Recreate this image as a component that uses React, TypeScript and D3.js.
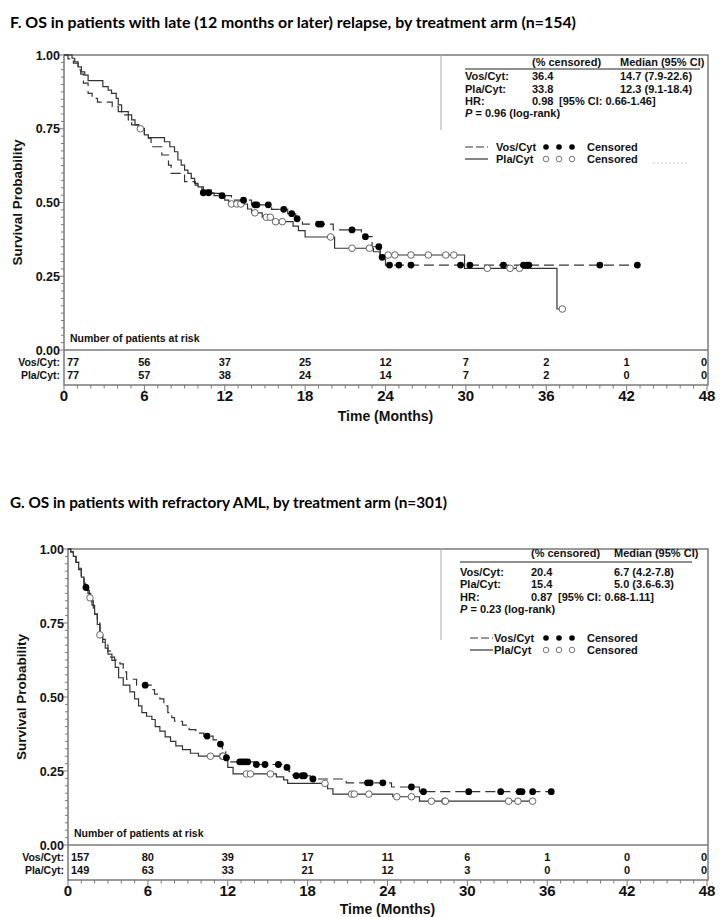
import React from "react";
import * as d3 from "d3";

// ---------- shared ----------
const monthTicks = [0, 6, 12, 18, 24, 30, 36, 42, 48];
const probTicks = [0, 0.25, 0.5, 0.75, 1];
const armLabels = ["Vos/Cyt:", "Pla/Cyt:"];

// ---------- Panel F ----------
const fTitle = "F. OS in patients with late (12 months or later) relapse, by treatment arm (n=154)";
const fVosSteps: [number, number][] = [
  [0.3, 0.987], [0.7, 0.972], [1.05, 0.95], [1.25, 0.935], [1.45, 0.905], [1.8, 0.87], [2.1, 0.853],
  [2.5, 0.84], [3.6, 0.825], [4.05, 0.808], [4.3, 0.797], [4.8, 0.78], [5.05, 0.763], [5.6, 0.751],
  [6.0, 0.729], [6.3, 0.718], [6.5, 0.689], [7.3, 0.661], [7.8, 0.627], [8.0, 0.599], [9.0, 0.571],
  [9.8, 0.559], [10.3, 0.533], [11.2, 0.523], [12.5, 0.508], [14.0, 0.492], [15.5, 0.477],
  [16.7, 0.462], [17.3, 0.445], [17.8, 0.427], [20.1, 0.407], [22.2, 0.384], [23.0, 0.35],
  [23.6, 0.314], [24.0, 0.288],
];
const fVosEnd = 42.8;
const fVosCensored = [10.4, 10.8, 11.8, 13.4, 14.25, 14.4, 15.25, 16.4, 17.0, 17.4, 19.0, 19.2, 21.5, 22.5,
  23.5, 23.75, 24.3, 25.0, 25.9, 29.6, 30.3, 32.8, 34.3, 34.55, 34.7, 40.0, 42.8];
const fPlaSteps: [number, number][] = [
  [0.6, 0.989], [0.8, 0.977], [1.05, 0.96], [1.3, 0.943], [1.55, 0.932], [1.8, 0.913], [2.9, 0.893],
  [3.3, 0.881], [3.55, 0.87], [3.9, 0.853], [4.05, 0.831], [4.3, 0.808], [4.8, 0.797], [5.05, 0.78],
  [5.3, 0.763], [5.55, 0.75], [6.0, 0.729], [6.3, 0.72], [7.5, 0.706], [7.9, 0.689], [8.25, 0.672],
  [8.5, 0.644], [8.75, 0.627], [9.0, 0.61], [9.25, 0.599], [9.5, 0.582], [9.75, 0.565], [10.0, 0.553],
  [10.4, 0.542], [11.0, 0.531], [11.6, 0.52], [12.0, 0.508], [12.3, 0.495], [13.7, 0.478], [14.0, 0.465],
  [14.8, 0.45], [15.6, 0.435], [17.1, 0.42], [17.5, 0.405], [18.0, 0.383], [20.2, 0.345], [23.1, 0.333],
  [23.6, 0.322], [29.9, 0.277], [36.8, 0.139],
];
const fPlaEnd = 37.2;
const fPlaCensored = [5.7, 12.5, 12.9, 13.2, 14.25, 15.1, 15.4, 15.8, 16.3, 19.9, 21.5, 22.8, 24.2, 24.7,
  25.9, 27.2, 28.5, 29.1, 31.6, 33.3, 34.0, 37.2];
const fRiskVos = [77, 56, 37, 25, 12, 7, 2, 1, 0];
const fRiskPla = [77, 57, 38, 24, 14, 7, 2, 0, 0];
const fCensPct = ["36.4", "33.8"];
const fMedians = ["14.7 (7.9-22.6)", "12.3 (9.1-18.4)"];
const fHR = ["0.98", "[95% CI: 0.66-1.46]"];
const fP = "= 0.96 (log-rank)";

// ---------- Panel G ----------
const gTitle = "G. OS in patients with refractory AML, by treatment arm (n=301)";
const gVosSteps: [number, number][] = [
  [0.2, 0.99], [0.4, 0.975], [0.6, 0.955], [0.8, 0.935], [1.0, 0.91], [1.2, 0.885], [1.3, 0.87],
  [1.5, 0.85], [1.7, 0.825], [1.9, 0.8], [2.0, 0.78], [2.2, 0.75], [2.4, 0.72], [2.6, 0.695],
  [2.8, 0.675], [3.0, 0.655], [3.2, 0.635], [3.5, 0.625], [3.9, 0.612], [4.15, 0.585], [4.4, 0.56],
  [5.15, 0.54], [6.3, 0.525], [6.5, 0.51], [6.9, 0.494], [7.2, 0.47], [7.5, 0.447], [7.8, 0.43],
  [8.0, 0.418], [8.6, 0.405], [9.1, 0.39], [9.6, 0.378], [10.2, 0.368], [10.9, 0.355], [11.2, 0.341],
  [11.6, 0.318], [11.85, 0.295], [12.1, 0.281], [14.0, 0.272], [16.2, 0.262], [16.6, 0.248],
  [16.9, 0.234], [18.2, 0.223], [20.9, 0.21], [24.3, 0.196], [26.4, 0.18],
];
const gVosEnd = 36.3;
const gVosCensored = [1.35, 5.8, 10.45, 11.45, 11.9, 12.9, 13.1, 13.3, 13.5, 14.15, 14.8, 15.8, 16.45, 17.15,
  17.6, 17.75, 18.4, 22.5, 22.7, 23.65, 25.8, 26.7, 30.1, 32.5, 33.9, 34.1, 34.9, 36.3];
const gPlaSteps: [number, number][] = [
  [0.2, 0.99], [0.4, 0.975], [0.6, 0.955], [0.8, 0.93], [1.0, 0.905], [1.2, 0.88], [1.4, 0.86],
  [1.6, 0.835], [1.8, 0.81], [2.0, 0.78], [2.2, 0.745], [2.4, 0.71], [2.6, 0.685], [2.8, 0.665],
  [3.0, 0.645], [3.3, 0.624], [3.55, 0.6], [3.8, 0.565], [4.15, 0.54], [4.65, 0.517], [5.0, 0.494],
  [5.3, 0.47], [5.55, 0.447], [5.9, 0.435], [6.3, 0.424], [6.55, 0.4], [6.9, 0.385], [7.3, 0.365],
  [7.7, 0.35], [8.1, 0.335], [8.6, 0.322], [9.2, 0.31], [9.8, 0.3], [11.8, 0.285], [12.0, 0.262],
  [12.4, 0.24], [15.65, 0.23], [16.2, 0.22], [16.5, 0.208], [19.5, 0.19], [19.9, 0.172], [24.4, 0.163],
  [26.4, 0.148],
];
const gPlaEnd = 34.9;
const gPlaCensored = [1.65, 2.4, 10.7, 11.6, 11.65, 13.4, 13.7, 15.2, 19.3, 21.3, 21.5, 22.6, 24.7, 25.8,
  27.3, 28.3, 28.35, 33.1, 33.8, 34.9];
const gRiskVos = [157, 80, 39, 17, 11, 6, 1, 0, 0];
const gRiskPla = [149, 63, 33, 21, 12, 3, 0, 0, 0];
const gCensPct = ["20.4", "15.4"];
const gMedians = ["6.7 (4.2-7.8)", "5.0 (3.6-6.3)"];
const gHR = ["0.87", "[95% CI: 0.68-1.11]"];
const gP = "= 0.23 (log-rank)";

const FONT = "'Liberation Sans', Arial, Helvetica, sans-serif";
const TITLE_FONT = "Lato, 'Open Sans', sans-serif";
const FRAME = "#7a7a7a";
const CURVE = "#333";

function survAt(steps: [number, number][], t: number) {
  let s = 1;
  for (const [tt, v] of steps) {
    if (tt <= t) s = v;
    else break;
  }
  return s;
}

type Geo = {
  x0: number; x1: number; yTop: number; yZero: number; frameBottom: number;
  titleY: number; titleLen: number; riskY: [number, number]; tickLabelY: number; timeY: number;
  statsX: { lab: number; pct: number; ci: number; med: number; lineL: number; lineR: number };
  statsY: { head: number; line: number; rows: number[] };
  legY: [number, number]; legX: { line: number; lab: number; dots: number[]; cens: number };
  boxBottom: number; faint: boolean;
};

type PanelData = {
  title: string;
  vosSteps: [number, number][]; vosEnd: number; vosCens: number[];
  plaSteps: [number, number][]; plaEnd: number; plaCens: number[];
  riskVos: number[]; riskPla: number[];
  censPct: string[]; medians: string[]; hr: string[]; p: string;
};

function Panel({ g, d }: { g: Geo; d: PanelData }) {
  const x = d3.scaleLinear().domain([0, 48]).range([g.x0, 707]);
  const y = d3.scaleLinear().domain([0, 1]).range([g.yZero, g.yTop]);
  const line = d3
    .line<[number, number]>()
    .x((p) => x(p[0]))
    .y((p) => y(p[1]))
    .curve(d3.curveStepAfter);
  const pts = (steps: [number, number][], end: number): [number, number][] => [
    [0, 1],
    ...steps,
    [end, steps[steps.length - 1][1]],
  ];
  const minorX = d3.range(0, 49, 1);
  const minorY = d3.range(0, 1.0001, 0.025);
  const fmt = d3.format(".2f");
  const midY = (g.yTop + g.yZero) / 2;
  const S = g.statsX;
  const SY = g.statsY;

  return (
    <g>
      <text x={10} y={g.titleY} fontFamily={TITLE_FONT} fontWeight="bold" fontSize={15.5}
        textLength={g.titleLen} lengthAdjust="spacingAndGlyphs" fill="#000">
        {d.title}
      </text>

      {/* frame */}
      <rect x={g.x0} y={g.yTop} width={g.x1 - g.x0} height={g.frameBottom - g.yTop}
        fill="none" stroke={FRAME} strokeWidth={1.5} />
      <line x1={g.x0} x2={g.x1} y1={g.yZero} y2={g.yZero} stroke={FRAME} strokeWidth={1.3} />

      {/* y ticks */}
      {minorY.map((v, i) => (
        <line key={"my" + i} x1={g.x0 - (i % 10 === 0 ? 5 : 3)} x2={g.x0} y1={y(v)} y2={y(v)}
          stroke={FRAME} strokeWidth={1} />
      ))}
      {probTicks.map((v) => (
        <text key={"yt" + v} x={g.x0 - 4} y={y(v) + 4.5} textAnchor="end" fontFamily={FONT}
          fontWeight="bold" fontSize={12.5} fill="#111">
          {fmt(v)}
        </text>
      ))}
      <text transform={`translate(${g.x0 - 42},${midY}) rotate(-90)`} textAnchor="middle"
        fontFamily={FONT} fontWeight="bold" fontSize={13.5} fill="#111">
        Survival Probability
      </text>

      {/* x ticks */}
      {minorX.map((m) => (
        <line key={"mx" + m} x1={x(m)} x2={x(m)} y1={g.frameBottom}
          y2={g.frameBottom + (m % 6 === 0 ? 6 : 3.5)} stroke={FRAME} strokeWidth={1} />
      ))}
      {monthTicks.map((m) => (
        <text key={"xt" + m} x={x(m)} y={g.tickLabelY} textAnchor="middle" fontFamily={FONT}
          fontWeight="bold" fontSize={15} fill="#111">
          {m}
        </text>
      ))}
      <text x={(g.x0 + 707) / 2} y={g.timeY} textAnchor="middle" fontFamily={FONT} fontWeight="bold"
        fontSize={14} fill="#111">
        Time (Months)
      </text>

      {/* at risk */}
      <text x={g.x0 + 6} y={g.yZero - 8} fontFamily={FONT} fontWeight="bold" fontSize={10.5} fill="#111">
        Number of patients at risk
      </text>
      {[d.riskVos, d.riskPla].map((row, r) => (
        <g key={"risk" + r}>
          <text x={g.x0 - 4} y={g.riskY[r]} textAnchor="end" fontFamily={FONT} fontWeight="bold"
            fontSize={10.5} fill="#111">
            {armLabels[r]}
          </text>
          {row.map((n, i) => (
            <text key={i} x={i === 0 ? g.x0 + 3 : i === row.length - 1 ? 707 : x(monthTicks[i])}
              y={g.riskY[r]} textAnchor={i === 0 ? "start" : i === row.length - 1 ? "end" : "middle"}
              fontFamily={FONT} fontWeight="bold" fontSize={11} fill="#111">
              {n}
            </text>
          ))}
        </g>
      ))}

      {/* curves */}
      <path d={line(pts(d.plaSteps, d.plaEnd)) || ""} fill="none" stroke={CURVE} strokeWidth={1.2} />
      <path d={line(pts(d.vosSteps, d.vosEnd)) || ""} fill="none" stroke={CURVE} strokeWidth={1.2}
        strokeDasharray="10,5" />
      {d.plaCens.map((t, i) => (
        <circle key={"pc" + i} cx={x(t)} cy={y(survAt(d.plaSteps, t))} r={3.3} fill="#fff"
          stroke="#555" strokeWidth={0.9} />
      ))}
      {d.vosCens.map((t, i) => (
        <circle key={"vc" + i} cx={x(t)} cy={y(survAt(d.vosSteps, t))} r={3.4} fill="#000" />
      ))}

      {/* stats box */}
      <line x1={441} x2={441} y1={g.yTop} y2={g.boxBottom} stroke="#aaa" strokeWidth={1} />
      <g fontFamily={FONT} fontWeight="bold" fontSize={11} fill="#111">
        <text x={S.pct} y={SY.head}>(% censored)</text>
        <text x={S.med} y={SY.head}>Median (95% CI)</text>
        <line x1={S.lineL} x2={S.lineR} y1={SY.line} y2={SY.line} stroke="#222" strokeWidth={1} />
        {[0, 1].map((r) => (
          <g key={"st" + r}>
            <text x={S.lab} y={SY.rows[r]}>{armLabels[r]}</text>
            <text x={S.pct} y={SY.rows[r]}>{d.censPct[r]}</text>
            <text x={S.med} y={SY.rows[r]}>{d.medians[r]}</text>
          </g>
        ))}
        <text x={S.lab} y={SY.rows[2]}>HR:</text>
        <text x={S.pct} y={SY.rows[2]}>{d.hr[0]}</text>
        <text x={S.ci} y={SY.rows[2]}>{d.hr[1]}</text>
        <text x={S.lab} y={SY.rows[3]}>
          <tspan fontStyle="italic">P</tspan> {d.p}
        </text>
      </g>

      {/* legend */}
      <g fontFamily={FONT} fontWeight="bold" fontSize={11} fill="#111">
        {[0, 1].map((r) => (
          <g key={"lg" + r}>
            <line x1={g.legX.line} x2={g.legX.line + 23} y1={g.legY[r] - 4} y2={g.legY[r] - 4}
              stroke={CURVE} strokeWidth={1.2} strokeDasharray={r === 0 ? "8,3,8,3,2" : undefined} />
            <text x={g.legX.lab} y={g.legY[r]}>{armLabels[r].replace(":", "")}</text>
            {g.legX.dots.map((dx, k) =>
              r === 0 ? (
                <circle key={k} cx={dx} cy={g.legY[r] - 4} r={2.8} fill="#000" />
              ) : (
                <circle key={k} cx={dx} cy={g.legY[r] - 4} r={2.8} fill="#fff" stroke="#666" strokeWidth={0.9} />
              )
            )}
            <text x={g.legX.cens} y={g.legY[r]}>Censored</text>
          </g>
        ))}
        {g.faint && (
          <line x1={653} x2={688} y1={g.legY[1]} y2={g.legY[1]} stroke="#ccc" strokeWidth={1}
            strokeDasharray="2,2" />
        )}
      </g>
    </g>
  );
}

const geoF: Geo = {
  x0: 64, x1: 708, yTop: 55, yZero: 350, frameBottom: 385,
  titleY: 28, titleLen: 566, riskY: [366, 379], tickLabelY: 401, timeY: 421,
  statsX: { lab: 465, pct: 532, ci: 559, med: 620, lineL: 465, lineR: 700 },
  statsY: { head: 66, line: 69, rows: [80, 93, 105, 117] },
  legY: [151, 163], legX: { line: 465, lab: 496, dots: [546, 559, 572], cens: 587 },
  boxBottom: 130, faint: true,
};

const geoG: Geo = {
  x0: 68, x1: 708, yTop: 549, yZero: 845, frameBottom: 880,
  titleY: 508, titleLen: 437, riskY: [861, 874], tickLabelY: 896, timeY: 914,
  statsX: { lab: 460, pct: 531, ci: 558, med: 614, lineL: 460, lineR: 692 },
  statsY: { head: 557, line: 562, rows: [576, 588, 601, 613] },
  legY: [642, 654], legX: { line: 470, lab: 494, dots: [546, 559, 572], cens: 587 },
  boxBottom: 640, faint: false,
};

const dataF: PanelData = {
  title: fTitle, vosSteps: fVosSteps, vosEnd: fVosEnd, vosCens: fVosCensored,
  plaSteps: fPlaSteps, plaEnd: fPlaEnd, plaCens: fPlaCensored, riskVos: fRiskVos, riskPla: fRiskPla,
  censPct: fCensPct, medians: fMedians, hr: fHR, p: fP,
};
const dataG: PanelData = {
  title: gTitle, vosSteps: gVosSteps, vosEnd: gVosEnd, vosCens: gVosCensored,
  plaSteps: gPlaSteps, plaEnd: gPlaEnd, plaCens: gPlaCensored, riskVos: gRiskVos, riskPla: gRiskPla,
  censPct: gCensPct, medians: gMedians, hr: gHR, p: gP,
};

export default function App() {
  return (
    <svg width={721} height={917} viewBox="0 0 721 917"
      style={{ position: "absolute", left: 0, top: 0, background: "#fff" }}>
      <rect x={0} y={0} width={721} height={917} fill="#fff" />
      <Panel g={geoF} d={dataF} />
      <Panel g={geoG} d={dataG} />
    </svg>
  );
}
